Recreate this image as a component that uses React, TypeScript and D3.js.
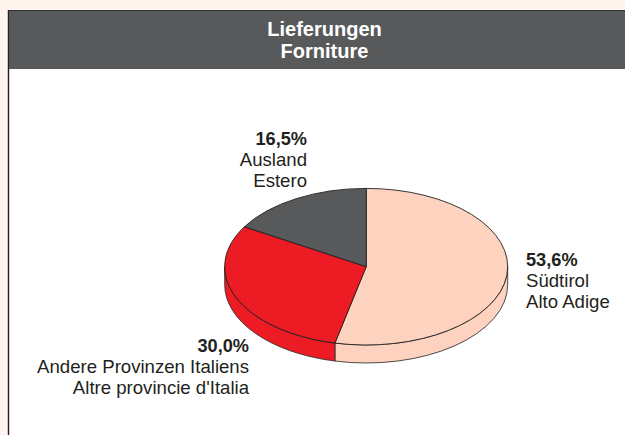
import React from "react";
import * as d3 from "d3";

const titleLines = ["Lieferungen", "Forniture"];
const shares = [53.6, 30.0, 16.5];
const shareLabels = ["53,6%", "30,0%", "16,5%"];
const germanNames = ["Südtirol", "Andere Provinzen Italiens", "Ausland"];
const italianNames = ["Alto Adige", "Altre provincie d'Italia", "Estero"];
const colours = ["#fdd3bf", "#ed1c24", "#58595b"];

const width = 625,
  height = 435;
const cx = 366.2,
  cy = 266.7,
  rx = 141.5,
  ry = 78.3,
  depth = 18;

// Label anchors, same order as the shares
const labelSpots = [
  { x: 526, y: 266, anchor: "start" },
  { x: 249, y: 352, anchor: "end" },
  { x: 307, y: 145, anchor: "end" },
];

const font = "'Liberation Sans', Arial, sans-serif";
const ink = "#231f20";

const pie = d3
  .pie<number>()
  .sort(null)
  .value((d) => d);

const slices = pie(shares);

// The pie is drawn round and squashed into an ellipse
const arc = d3
  .arc<d3.PieArcDatum<number>>()
  .innerRadius(0)
  .outerRadius(rx);

// Point on the top ellipse, angle clockwise from 12 o'clock
const rimX = (a: number) => cx + rx * Math.sin(a);
const rimY = (a: number) => cy - ry * Math.cos(a);

// Side wall of a slice: only the part of the rim facing the viewer
function wallPath(s: d3.PieArcDatum<number>) {
  const a0 = Math.max(s.startAngle, Math.PI / 2);
  const a1 = Math.min(s.endAngle, (3 * Math.PI) / 2);
  if (a1 <= a0) return null;
  return (
    `M${rimX(a0)},${rimY(a0)}` +
    `A${rx},${ry} 0 0 1 ${rimX(a1)},${rimY(a1)}` +
    `L${rimX(a1)},${rimY(a1) + depth}` +
    `A${rx},${ry} 0 0 0 ${rimX(a0)},${rimY(a0) + depth}Z`
  );
}

export default function App() {
  return (
    <svg
      width={width}
      height={height}
      style={{ position: "absolute", left: 0, top: 0 }}
      fontFamily={font}
    >
      <rect width={width} height={height} fill="#fff4ee" />
      <rect x={9} y={10} width={width} height={height} fill="#fff" />
      <line x1={8.5} x2={8.5} y1={10} y2={height} stroke={ink} strokeWidth={1.4} />
      <rect x={9} y={10} width={width - 9} height={59} fill="#58595b" />
      <line x1={8} x2={width} y1={10.5} y2={10.5} stroke="#333" />

      {titleLines.map((t, i) => (
        <text
          key={t}
          x={324.5}
          y={35.5 + i * 22.5}
          textAnchor="middle"
          fill="#fff"
          fontWeight="bold"
          fontSize={20}
        >
          {t}
        </text>
      ))}

      {/* side walls first, the top goes over them */}
      {slices.map((s, i) => {
        const d = wallPath(s);
        return d ? (
          <path key={i} d={d} fill={colours[i]} stroke={ink} strokeWidth={0.8} />
        ) : null;
      })}

      <g transform={`translate(${cx},${cy}) scale(1,${ry / rx})`}>
        {slices.map((s, i) => (
          <path
            key={i}
            d={arc(s) as string}
            fill={colours[i]}
            stroke={ink}
            strokeWidth={0.9}
            vectorEffect="non-scaling-stroke"
          />
        ))}
      </g>

      {labelSpots.map((p, i) => (
        <text key={i} x={p.x} textAnchor={p.anchor} fill={ink} fontSize={18.6}>
          <tspan x={p.x} y={p.y} fontWeight="bold" fontSize={18.2}>
            {shareLabels[i]}
          </tspan>
          <tspan x={p.x} y={p.y + 21}>
            {germanNames[i]}
          </tspan>
          <tspan x={p.x} y={p.y + 42}>
            {italianNames[i]}
          </tspan>
        </text>
      ))}
    </svg>
  );
}
